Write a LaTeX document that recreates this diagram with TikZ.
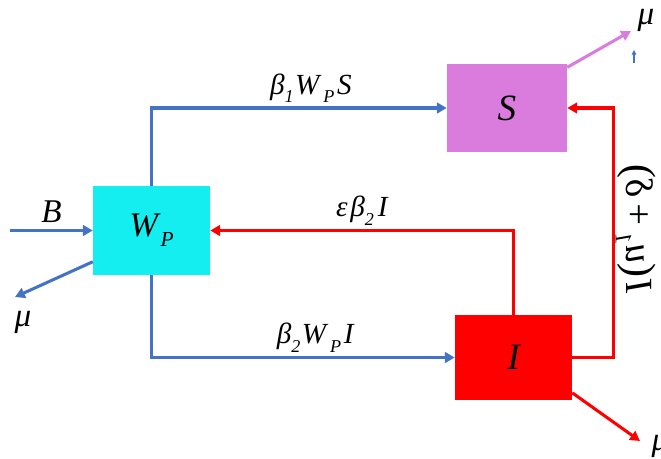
\documentclass[tikz,border=0pt]{standalone}
\usepackage{fontspec}
\setmainfont{Liberation Serif}
\usetikzlibrary{arrows.meta, positioning}
\definecolor{wpcyan}{RGB}{20,238,240}
\definecolor{sorchid}{RGB}{218,124,222}
\definecolor{ired}{RGB}{255,0,0}
\definecolor{flowblue}{RGB}{68,114,196}
\newcommand{\lowsub}[1]{\raisebox{-0.28em}{\fontsize{0.62em}{0.7em}\selectfont #1}}

\begin{document}
\begin{tikzpicture}[
  x=0.0265cm, y=-0.0265cm,
  box/.style={minimum width=3.1cm, minimum height=2.3cm, inner sep=0pt, font=\itshape\fontsize{28}{30}\selectfont},
  blueflow/.style={draw=flowblue, line width=2.3pt, -{Triangle[length=2.6mm, width=2.8mm]}},
  redflow/.style={draw=ired, line width=2.3pt, -{Triangle[length=2.6mm, width=2.8mm]}},
  pinkflow/.style={draw=sorchid, line width=2.3pt, -{Triangle[length=2.6mm, width=2.8mm]}},
  lbl/.style={font=\itshape\fontsize{22}{24}\selectfont, inner sep=1pt},
  big/.style={font=\itshape\fontsize{25}{27}\selectfont, inner sep=1pt}
]
  \useasboundingbox (0,0) rectangle (661,458);
  % compartments
  \node[box, fill=wpcyan, minimum width=3.1cm, minimum height=2.36cm] (WP) at (151.5,230.5) {\fontsize{26}{28}\selectfont W\kern2pt\lowsub{P}};
  \node[box, fill=sorchid, minimum width=3.18cm, minimum height=2.33cm] (S) at (507,108) {S};
  \node[box, fill=ired, minimum width=3.1cm, minimum height=2.25cm] (I) at (513.5,357.5) {I};
  % transfers
  \draw[blueflow] (WP.north) |- node[lbl, pos=0.77, above=2pt] {β\lowsub{1}\kern1pt W\kern3pt\lowsub{P}\kern2pt S} (S.west);
  \draw[blueflow] (WP.south) |- node[lbl, pos=0.77, above=2pt] {β\lowsub{2}\kern1pt W\kern3pt\lowsub{P}\kern2pt I} (I.west);
  \draw[redflow] (I.north) |- node[lbl, pos=0.75, above=2pt] {ε\kern2pt β\lowsub{2}\kern3pt I} (WP.east);
  \draw[redflow] (I.east) -- ++(41,0) |- node[font=\itshape\fontsize{29}{31}\selectfont, inner sep=1pt, pos=0.25, xshift=17pt, yshift=3pt, cm={0,1,1,0,(0,0)}] {I\kern2pt{\upshape\fontsize{32}{32}\selectfont(}u\lowsub{1}\kern5pt{\upshape+}\kern5pt δ\kern1pt{\upshape\fontsize{32}{32}\selectfont)}} (S.east);
  % inflow and deaths
  \coordinate (Bin) at (10,230.5);
  \draw[blueflow] (Bin) -- node[big, above=4pt] {B} (WP.west);
  \coordinate (WPout) at (15,297);
  \draw[blueflow] (WP.208) -- (WPout);
  \node[big] (muWP) at (23,322) {μ};
  \coordinate (Sout) at (631,31);
  \draw[pinkflow] (S.34) -- (Sout);
  \node[big] (muS) at (646,20) {μ};
  \coordinate (tickA) at (634,63);
  \coordinate (tickB) at (634,50);
  \draw[flowblue, line width=0.8pt, -{Triangle[length=1.2mm, width=1.2mm]}] (tickA) -- (tickB);
  \coordinate (Iout) at (640,441);
  \draw[redflow] (I.-31) -- (Iout);
  \node[big] (muI) at (660,446) {μ};
\end{tikzpicture}
\end{document}
